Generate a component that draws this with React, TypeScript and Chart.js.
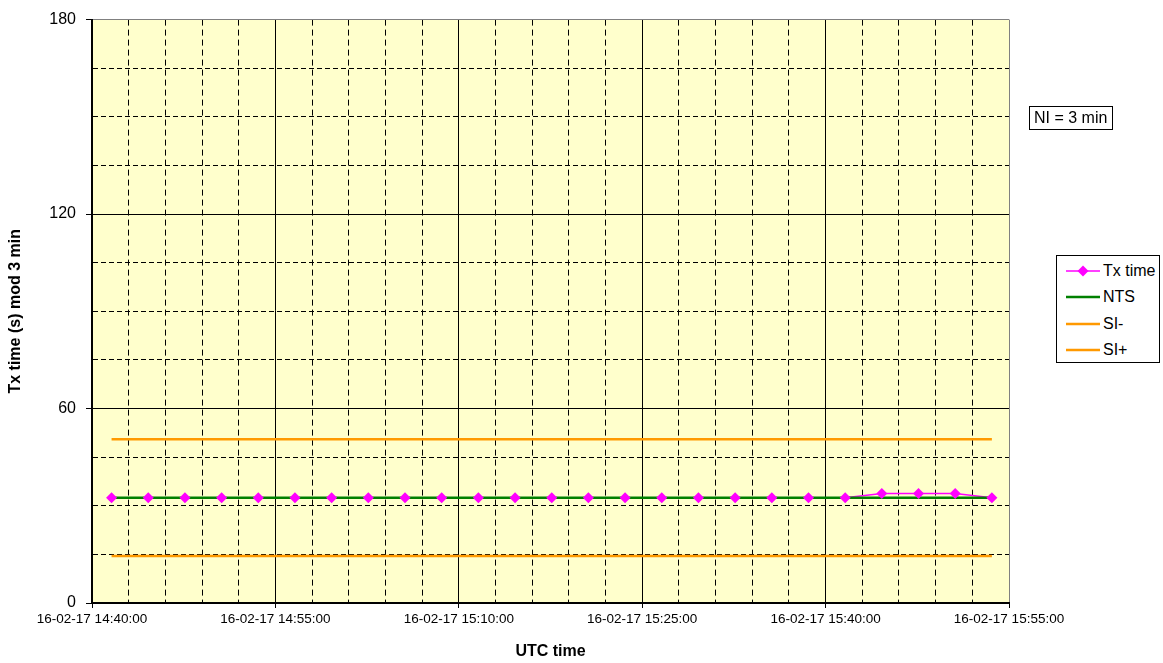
import React, { useEffect, useRef } from 'react';
import { Chart, registerables } from 'chart.js';

Chart.register(...registerables);

// ---------- data ----------
const axisStart = '14:40:00';
const axisEnd = '15:55:00';
const xTickLabels = [
  '16-02-17 14:40:00',
  '16-02-17 14:55:00',
  '16-02-17 15:10:00',
  '16-02-17 15:25:00',
  '16-02-17 15:40:00',
  '16-02-17 15:55:00',
];
const yTickLabels = ['0', '60', '120', '180'];

const txTimes = [
  '14:41:36', '14:44:36', '14:47:36', '14:50:36', '14:53:36',
  '14:56:36', '14:59:36', '15:02:36', '15:05:36', '15:08:36',
  '15:11:36', '15:14:36', '15:17:36', '15:20:36', '15:23:36',
  '15:26:36', '15:29:36', '15:32:36', '15:35:36', '15:38:36',
  '15:41:36', '15:44:36', '15:47:36', '15:50:36', '15:53:36',
];
const txValues = [
  32.5, 32.5, 32.5, 32.5, 32.5,
  32.5, 32.5, 32.5, 32.5, 32.5,
  32.5, 32.5, 32.5, 32.5, 32.5,
  32.5, 32.5, 32.5, 32.5, 32.5,
  32.5, 33.8, 33.8, 33.8, 32.5,
];
const refTimes = ['14:41:36', '15:53:36'];
const ntsValues = [32.5, 32.5];
const siMinusValues = [14.5, 14.5];
const siPlusValues = [50.5, 50.5];
const noteText = 'NI = 3 min';
const xTitle = 'UTC time';
const yTitle = 'Tx time (s) mod 3 min';

// ---------- styles ----------
const FONT = "'Liberation Sans', Arial, Helvetica, sans-serif";
const PINK = '#FF00FF';
const GREEN = '#008000';
const ORANGE = '#FF9900';
const PLOT_BG = '#FFFFCC';

const toSec = (t: string) => {
  const [h, m, s] = t.split(':').map(Number);
  return h * 3600 + m * 60 + s;
};
const toMin = (t: string) => (toSec(t) - toSec(axisStart)) / 60;

const pts = (times: string[], vals: number[]) =>
  times.map((t, i) => ({ x: toMin(t), y: vals[i] }));

const plotBg = {
  id: 'plotBg',
  beforeDraw(chart: any) {
    const { ctx, chartArea } = chart;
    if (!chartArea) return;
    ctx.save();
    ctx.fillStyle = PLOT_BG;
    ctx.fillRect(chartArea.left, chartArea.top, chartArea.right - chartArea.left, chartArea.bottom - chartArea.top);
    ctx.restore();
  },
};

const isMult = (v: number, m: number) => Math.abs(v / m - Math.round(v / m)) < 1e-6;

const legendItems = [
  { label: 'Tx time', color: PINK, width: 1.5, diamond: true },
  { label: 'NTS', color: GREEN, width: 2.5, diamond: false },
  { label: 'SI-', color: ORANGE, width: 2.5, diamond: false },
  { label: 'SI+', color: ORANGE, width: 2.5, diamond: false },
];

export default function App() {
  const ref = useRef<HTMLCanvasElement | null>(null);

  useEffect(() => {
    if (!ref.current) return;
    const xMax = toMin(axisEnd);
    const chart = new Chart(ref.current, {
      type: 'line',
      data: {
        datasets: [
          {
            label: 'Tx time markers',
            data: pts(txTimes, txValues),
            showLine: false,
            pointStyle: 'rectRot',
            pointRadius: 5.5,
            pointBackgroundColor: PINK,
            pointBorderColor: PINK,
            pointBorderWidth: 0,
            order: 0,
          },
          {
            label: 'NTS',
            data: pts(refTimes, ntsValues),
            borderColor: GREEN,
            borderWidth: 2.5,
            pointRadius: 0,
            order: 1,
          },
          {
            label: 'SI-',
            data: pts(refTimes, siMinusValues),
            borderColor: ORANGE,
            borderWidth: 2.5,
            pointRadius: 0,
            order: 2,
          },
          {
            label: 'SI+',
            data: pts(refTimes, siPlusValues),
            borderColor: ORANGE,
            borderWidth: 2.5,
            pointRadius: 0,
            order: 2,
          },
          {
            label: 'Tx time',
            data: pts(txTimes, txValues),
            borderColor: PINK,
            borderWidth: 1.5,
            pointRadius: 0,
            order: 3,
          },
        ],
      },
      options: {
        responsive: false,
        animation: false,
        devicePixelRatio: 1,
        layout: { padding: { top: 17, right: 154, bottom: 0, left: 0 } },
        plugins: {
          legend: { display: false },
          tooltip: { enabled: false },
        },
        scales: {
          x: {
            type: 'linear',
            min: 0,
            max: xMax,
            afterFit: (s: any) => { s.height = 60; },
            ticks: {
              stepSize: 3,
              autoSkip: false,
              maxRotation: 0,
              minRotation: 0,
              padding: 3,
              color: '#000',
              font: { family: FONT, size: 13.5 },
              callback: (v: any) => (isMult(Number(v), 15) ? xTickLabels[Math.round(Number(v) / 15)] : ''),
            },
            grid: {
              color: (c: any) => {
                const v = c.tick ? c.tick.value : 0;
                if (Math.abs(v - xMax) < 1e-6) return '#808080';
                return '#000';
              },
              lineWidth: 1,
              tickLength: 5,
              tickColor: (c: any) => (c.tick && isMult(c.tick.value, 15) ? '#000' : 'rgba(0,0,0,0)'),
            },
            border: {
              color: '#000',
              width: 2,
              dash: (c: any) => (c.tick && !isMult(c.tick.value, 15) ? [6, 4] : []),
            },
            title: {
              display: true,
              text: xTitle,
              color: '#000',
              font: { family: FONT, size: 16, weight: 'bold' },
              padding: { top: 0, bottom: 2 },
            },
          },
          y: {
            type: 'linear',
            min: 0,
            max: 180,
            afterFit: (s: any) => { s.width = 92; },
            ticks: {
              stepSize: 15,
              autoSkip: false,
              padding: 10,
              color: '#000',
              font: { family: FONT, size: 16 },
              callback: (v: any) => (isMult(Number(v), 60) ? yTickLabels[Math.round(Number(v) / 60)] : ''),
            },
            grid: {
              color: (c: any) => {
                const v = c.tick ? c.tick.value : 0;
                if (Math.abs(v - 180) < 1e-6) return '#808080';
                return '#000';
              },
              lineWidth: 1,
              tickLength: 6,
              tickColor: (c: any) => (c.tick && isMult(c.tick.value, 60) ? '#000' : 'rgba(0,0,0,0)'),
            },
            border: {
              color: '#000',
              width: 2,
              dash: (c: any) => (c.tick && !isMult(c.tick.value, 60) ? [5, 3] : []),
            },
            title: {
              display: true,
              text: yTitle,
              color: '#000',
              font: { family: FONT, size: 16, weight: 'bold' },
              padding: { top: 6, bottom: 0 },
            },
          },
        },
      },
      plugins: [plotBg],
    } as any);
    return () => chart.destroy();
  }, []);

  return (
    <div style={{ position: 'fixed', left: 0, top: 0, width: 1163, height: 663, background: '#fff', fontFamily: FONT }}>
      <canvas ref={ref} width={1163} height={663} style={{ position: 'absolute', left: 0, top: 0, width: 1163, height: 663 }} />
      <div
        style={{
          position: 'absolute', left: 1029, top: 106, width: 84, height: 24, boxSizing: 'border-box',
          border: '1px solid #000', fontSize: 16, lineHeight: '22px', paddingLeft: 4, color: '#000', whiteSpace: 'nowrap',
        }}
      >
        {noteText}
      </div>
      <div
        style={{
          position: 'absolute', left: 1056, top: 255, width: 104, height: 108, boxSizing: 'border-box',
          border: '1px solid #000', background: '#fff',
        }}
      >
        {legendItems.map((it, i) => (
          <div key={it.label} style={{ position: 'absolute', left: 8, top: 3 + i * 26.3, height: 24, display: 'flex', alignItems: 'center', whiteSpace: 'nowrap' }}>
            <svg width={36} height={14} style={{ display: 'block' }}>
              <line x1={1} y1={7} x2={35} y2={7} stroke={it.color} strokeWidth={it.width} />
              {it.diamond && <polygon points="18,1.5 23.5,7 18,12.5 12.5,7" fill={it.color} />}
            </svg>
            <span style={{ fontSize: 16, color: '#000', marginLeft: 2 }}>{it.label}</span>
          </div>
        ))}
      </div>
    </div>
  );
}
